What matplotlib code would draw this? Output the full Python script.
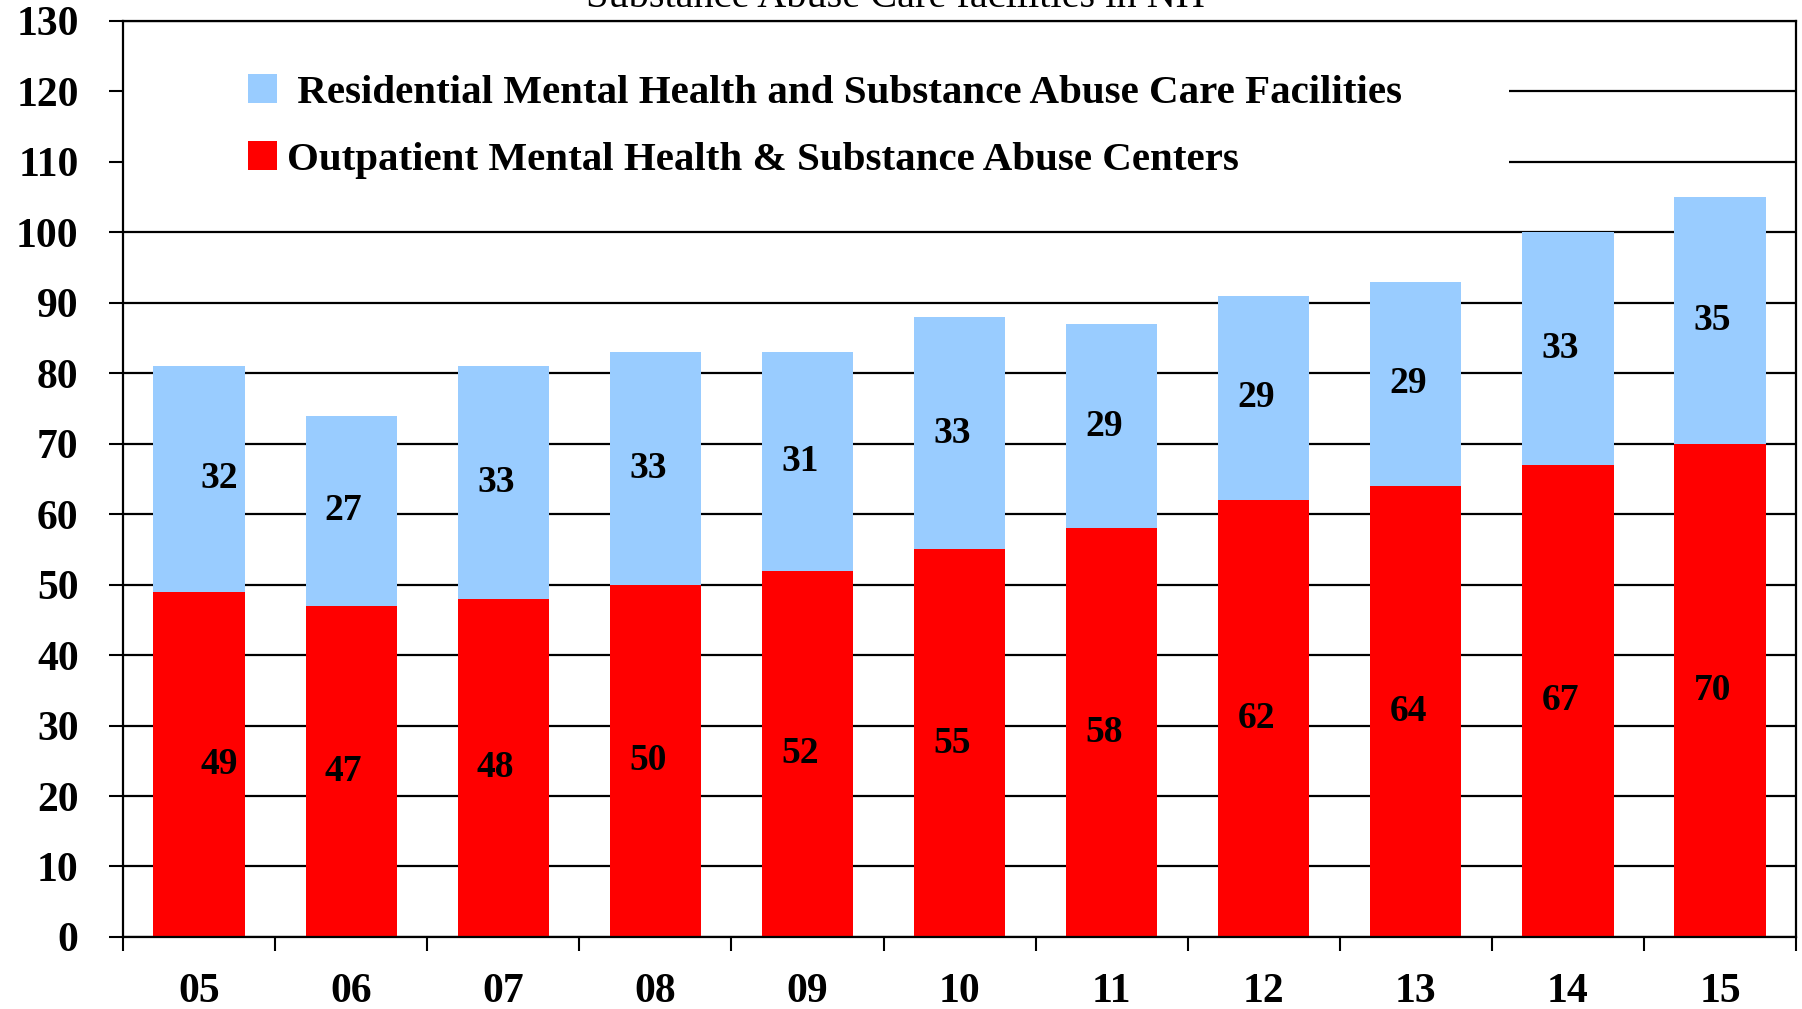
import matplotlib.pyplot as plt
import numpy as np
from matplotlib.patches import Rectangle
from matplotlib.ticker import FixedLocator

years = ['05', '06', '07', '08', '09', '10', '11', '12', '13', '14', '15']
outpatient = [49, 47, 48, 50, 52, 55, 58, 62, 64, 67, 70]
residential = [32, 27, 33, 33, 31, 33, 29, 29, 29, 33, 35]

# small horizontal nudges of the value labels, as in the original
label_dx = [0.13, -0.05, -0.05, -0.05, -0.05, -0.05, -0.05, -0.05, -0.05, -0.05, -0.05]

plt.rcParams['font.family'] = ['Liberation Serif', 'DejaVu Serif']

fig = plt.figure(figsize=(18.02, 10.09), dpi=100)
ax = fig.add_axes([0.0683, 0.0714, 0.9284, 0.9078])

x = np.arange(len(years))
red = '#ff0000'
blue = '#99ccff'

b1 = ax.bar(x, outpatient, width=0.6, color=red, zorder=2,
            label='Outpatient Mental Health & Substance Abuse Centers')
b2 = ax.bar(x, residential, width=0.6, bottom=outpatient, color=blue, zorder=2,
            label=' Residential Mental Health and Substance Abuse Care Facilities')

for i in range(len(years)):
    ax.text(x[i] + label_dx[i], outpatient[i] / 2, str(outpatient[i]), ha='center', va='center',
            fontsize=27, fontweight='bold', zorder=3)
    ax.text(x[i] + label_dx[i], outpatient[i] + residential[i] / 2, str(residential[i]),
            ha='center', va='center', fontsize=27, fontweight='bold', zorder=3)

ax.set_xlim(-0.5, len(years) - 0.5)
ax.set_ylim(0, 130)
ax.set_yticks(np.arange(0, 131, 10))
ax.set_yticklabels([str(v) for v in range(0, 131, 10)], fontsize=30, fontweight='bold')
ax.set_xticks(x)
ax.set_xticklabels(years, fontsize=30, fontweight='bold')
ax.xaxis.set_minor_locator(FixedLocator(np.arange(-0.5, len(years), 1.0)))
ax.tick_params(axis='x', which='major', length=0, pad=26)
ax.tick_params(axis='x', which='minor', length=10, width=1.5, direction='out')
ax.tick_params(axis='y', length=10, width=1.5, direction='out', pad=22)

ax.yaxis.grid(True, color='black', linewidth=1.6)
ax.set_axisbelow(True)
for s in ax.spines.values():
    s.set_linewidth(1.6)
    s.set_color('black')

# white box behind the legend that hides the grid lines
ax.add_patch(Rectangle((-0.5, 104.5), 9.11, 25, facecolor='white', edgecolor='none', zorder=1))

handles = [b2, b1]
ax.legend(handles, [h.get_label() for h in handles], loc='upper left',
          bbox_to_anchor=(0.0749, 0.942), borderaxespad=0, borderpad=0, frameon=False,
          prop={'weight': 'bold', 'size': 29.5}, handlelength=0.7, handleheight=0.72,
          handletextpad=0.25, labelspacing=0.7)

fig.text(0.497, 1 - 7 / 1009, 'Substance Abuse Care facilities in NH', ha='center',
         va='baseline', fontsize=29)

fig.savefig('out.png', dpi=100)
